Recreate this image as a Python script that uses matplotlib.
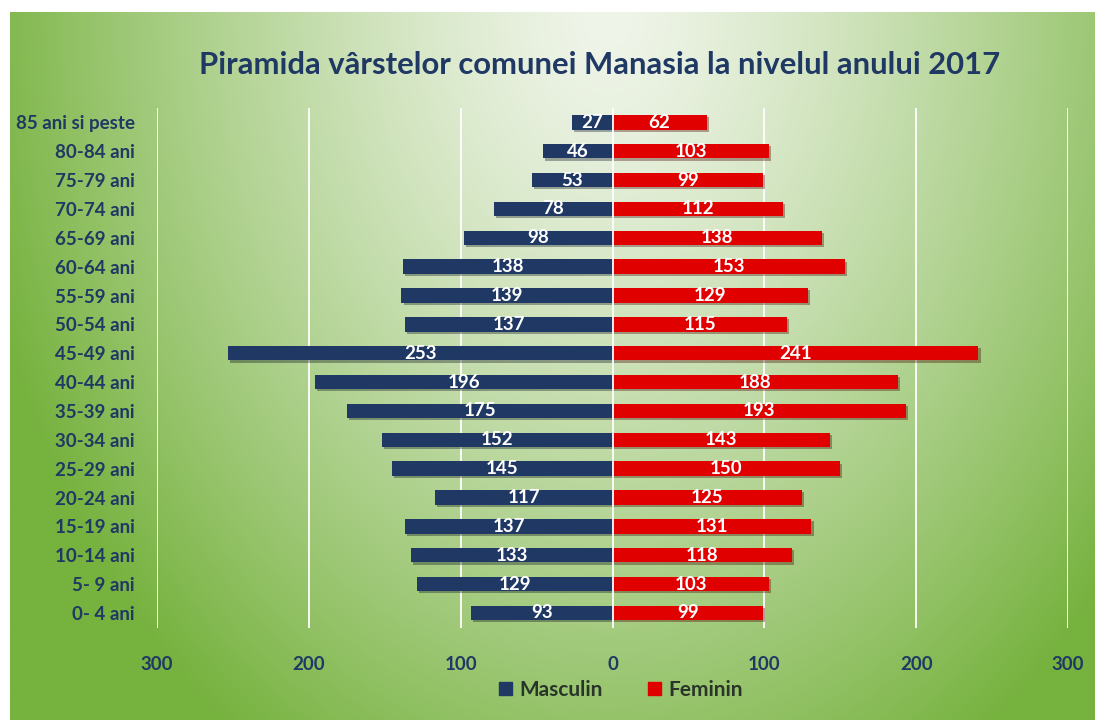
import matplotlib.pyplot as plt
import matplotlib.patheffects as pe
from matplotlib.patches import Patch
import numpy as np

# age groups, bottom to top
groups = ['0- 4 ani', '5- 9 ani', '10-14 ani', '15-19 ani', '20-24 ani', '25-29 ani',
          '30-34 ani', '35-39 ani', '40-44 ani', '45-49 ani', '50-54 ani', '55-59 ani',
          '60-64 ani', '65-69 ani', '70-74 ani', '75-79 ani', '80-84 ani', '85 ani si peste']
masculin = [93, 129, 133, 137, 117, 145, 152, 175, 196, 253, 137, 139, 138, 98, 78, 53, 46, 27]
feminin = [99, 103, 118, 131, 125, 150, 143, 193, 188, 241, 115, 129, 153, 138, 112, 99, 103, 62]
xticks = [-300, -200, -100, 0, 100, 200, 300]

NAVY = '#203864'
RED = '#e00000'
TXT = '#1f3864'

plt.rcParams['font.family'] = ['Lato', 'DejaVu Sans']
plt.rcParams['font.weight'] = 'bold'

fig = plt.figure(figsize=(10.95, 7.2), dpi=100)

# green radial gradient background panel
bg = fig.add_axes([0.009, 0.0, 0.991, 0.983])
h, w = 300, 450
yy, xx = np.mgrid[0:h, 0:w]
t = np.sqrt(((xx / w - 0.55) / 0.6) ** 2 + ((yy / h - 0.0) / 1.25) ** 2)
t = np.clip(t, 0, 1) ** 1.3
light = np.array([240, 245, 234]) / 255
green = np.array([118, 178, 62]) / 255
img = light[None, None, :] * (1 - t[..., None]) + green[None, None, :] * t[..., None]
bg.imshow(img, aspect='auto', extent=[0, 1, 0, 1])
bg.axis('off')

ax = fig.add_axes([0.1434, 0.1278, 0.832, 0.7222])
ax.patch.set_alpha(0)
y = np.arange(len(groups))
shadow = [pe.SimplePatchShadow(offset=(1.5, -1.5), alpha=0.35), pe.Normal()]
bm = ax.barh(y, [-v for v in masculin], height=0.5, color=NAVY, zorder=3)
bf = ax.barh(y, feminin, height=0.5, color=RED, zorder=3)
for b in list(bm) + list(bf):
    b.set_path_effects(shadow)

for i in range(len(groups)):
    ax.text(-masculin[i] / 2, y[i], str(masculin[i]), color='white', ha='center', va='center',
            fontsize=13.5, fontweight='bold', zorder=4)
    ax.text(feminin[i] / 2, y[i], str(feminin[i]), color='white', ha='center', va='center',
            fontsize=13.5, fontweight='bold', zorder=4)

for xv in xticks:
    ax.axvline(xv, color='white', lw=1.3, zorder=1 if xv else 5)

ax.set_xlim(-300, 300)
ax.set_ylim(-0.52, 17.5)
ax.set_yticks(y)
ax.set_yticklabels(groups, fontsize=13.5, fontweight='bold', color=TXT)
ax.set_xticks(xticks)
ax.set_xticklabels([str(abs(v)) for v in xticks], fontsize=13.5, fontweight='bold', color=TXT)
ax.tick_params(axis='y', length=0, pad=16)
ax.tick_params(axis='x', length=0, pad=20)
for s in ax.spines.values():
    s.set_visible(False)

fig.text(0.548, 0.91, 'Piramida vârstelor comunei Manasia la nivelul anului 2017',
         ha='center', va='center', fontsize=22.3, fontweight='bold', color=TXT)

handles = [Patch(color=NAVY, label='Masculin'), Patch(color=RED, label='Feminin')]
fig.legend(handles=handles, loc='center', bbox_to_anchor=(0.567, 0.042), ncol=2, frameon=False,
           prop={'size': 15, 'weight': 'bold'}, labelcolor='#2a352a', handlelength=0.6,
           handleheight=0.6, handletextpad=0.35, columnspacing=2.2)

fig.savefig('out.png', dpi=100)
